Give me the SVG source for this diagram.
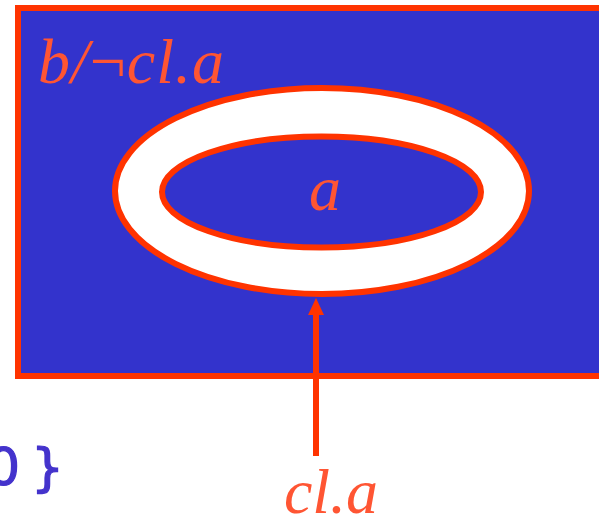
<svg xmlns="http://www.w3.org/2000/svg" width="599" height="516" viewBox="0 0 599 516">
  <defs>
    <style>
      .red { stroke: #ff3300; stroke-width: 6; }
      .math { font-family: "Liberation Serif", "Times New Roman", serif; font-style: italic; fill: #ff5533; }
      .code { font-family: "DejaVu Sans", sans-serif; fill: #4433cc; stroke: #4433cc; stroke-width: 1.2; }
    </style>
    <marker id="arrow" viewBox="0 0 17 16" refX="3" refY="8" markerWidth="17" markerHeight="16" markerUnits="userSpaceOnUse" orient="auto">
      <path d="M0,0 L17,8 L0,16 Z" fill="#ff3300"/>
    </marker>
  </defs>
  <g id="region-b">
    <rect x="18" y="8" width="600" height="368" fill="#3333cc" class="red"/>
    <text x="38" y="83" class="math" font-size="64" textLength="186" lengthAdjust="spacing">b/<tspan font-style="normal">¬</tspan>cl.a</text>
  </g>
  <g id="closure">
    <ellipse cx="322" cy="191" rx="207" ry="103" fill="#ffffff" class="red"/>
  </g>
  <g id="region-a">
    <ellipse cx="321.5" cy="192" rx="159.5" ry="55.5" fill="#3333cc" class="red"/>
    <text x="325" y="210" class="math" font-size="64" text-anchor="middle">a</text>
  </g>
  <g id="label-cla">
    <text x="331" y="513" class="math" font-size="64" text-anchor="middle">cl.a</text>
  </g>
  <g id="code">
    <text y="485" class="code" font-size="52"><tspan x="-13">0</tspan><tspan x="31">}</tspan></text>
  </g>
  <g id="connectors">
    <line x1="316" y1="456" x2="316" y2="312" class="red" marker-end="url(#arrow)"/>
  </g>
</svg>
